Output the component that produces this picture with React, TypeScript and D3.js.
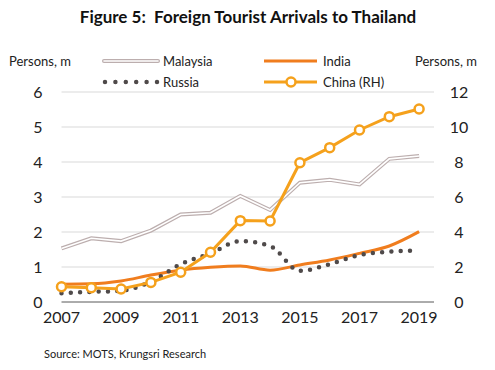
import React from 'react'
import * as d3 from 'd3'

// Foreign tourist arrivals to Thailand, persons m (China on right axis)
const years = [2007, 2008, 2009, 2010, 2011, 2012, 2013, 2014, 2015, 2016, 2017, 2018, 2019]
const malaysia = [1.53, 1.82, 1.74, 2.04, 2.5, 2.55, 3.03, 2.63, 3.41, 3.49, 3.36, 4.09, 4.17]
const india = [0.51, 0.52, 0.6, 0.77, 0.91, 0.99, 1.03, 0.91, 1.06, 1.2, 1.39, 1.6, 2.01]
const russia = [0.25, 0.29, 0.32, 0.58, 1.08, 1.39, 1.74, 1.6, 0.89, 1.08, 1.34, 1.44, 1.47]
const china = [0.87, 0.82, 0.74, 1.12, 1.7, 2.84, 4.65, 4.63, 7.96, 8.82, 9.83, 10.59, 11.03]
const leftTicks = [0, 1, 2, 3, 4, 5, 6]
const rightTicks = [0, 2, 4, 6, 8, 10, 12]
const yearLabels = [2007, 2009, 2011, 2013, 2015, 2017, 2019]

const W = 495, H = 370
const font = 'Lato, "Open Sans", sans-serif'
const cMalaysia = '#bcaeae'
const cIndia = '#f07d1e'
const cChina = '#f5a11c'
const cRussia = '#4f4a4a'

export default function App() {
  const x = d3.scaleLinear().domain([2007, 2019.5]).range([61.5, 434])
  const yL = d3.scaleLinear().domain([0, 6]).range([302, 92])
  const yR = d3.scaleLinear().domain([0, 12]).range([302, 92])

  const lineL = d3.line<number>().x((_, i) => x(years[i])).y(d => yL(d))
  const lineR = d3.line<number>().x((_, i) => x(years[i])).y(d => yR(d))
  const smoothL = d3.line<number>().x((_, i) => x(years[i])).y(d => yL(d)).curve(d3.curveMonotoneX)

  return (
    <svg width={W} height={H} style={{ position: 'absolute', left: 0, top: 0, background: '#fff' }} fontFamily={font}>
      <text x={248} y={23} textAnchor="middle" fontSize={17} fontWeight="bold" fill="#111" style={{ whiteSpace: 'pre' }}>
        {'Figure 5:\u00a0 Foreign Tourist Arrivals to Thailand'}
      </text>

      {/* gridlines */}
      {leftTicks.slice(1).map(t => (
        <line key={t} x1={61.5} x2={434} y1={yL(t)} y2={yL(t)} stroke="#d9d9d9" strokeWidth={1} />
      ))}
      <line x1={61.5} x2={434} y1={yL(0)} y2={yL(0)} stroke="#595959" strokeWidth={1} />

      {/* axis labels */}
      <text x={9} y={66} fontSize={13} fill="#222">Persons, m</text>
      <text x={415} y={66} fontSize={13} fill="#222">Persons, m</text>
      {leftTicks.map(t => (
        <text key={t} x={38} y={yL(t) + 6} textAnchor="middle" fontSize={16} fill="#222">{t}</text>
      ))}
      {rightTicks.map(t => (
        <text key={t} x={459} y={yR(t) + 6} textAnchor="middle" fontSize={16} fill="#222">{t}</text>
      ))}
      {yearLabels.map(t => (
        <text key={t} x={x(t)} y={323} textAnchor="middle" fontSize={16} fill="#222">{t}</text>
      ))}

      {/* series */}
      <path d={lineL(malaysia) || ''} fill="none" stroke={cMalaysia} strokeWidth={4} />
      <path d={lineL(malaysia) || ''} fill="none" stroke="#fff" strokeWidth={1.6} />
      <path d={smoothL(india) || ''} fill="none" stroke={cIndia} strokeWidth={3} />
      <path d={smoothL(russia) || ''} fill="none" stroke={cRussia} strokeWidth={4.5} strokeDasharray="0 9.3" strokeLinecap="round" />
      <path d={lineR(china) || ''} fill="none" stroke={cChina} strokeWidth={3} />
      {china.map((v, i) => (
        <circle key={i} cx={x(years[i])} cy={yR(v)} r={4.5} fill="#fff" stroke={cChina} strokeWidth={2.5} />
      ))}

      {/* legend */}
      <line x1={104} x2={158} y1={61} y2={61} stroke={cMalaysia} strokeWidth={4} strokeLinecap="round" />
      <line x1={104} x2={158} y1={61} y2={61} stroke="#fff" strokeWidth={1.6} strokeLinecap="round" />
      <text x={163} y={66} fontSize={13} fill="#222">Malaysia</text>
      <line x1={264} x2={317} y1={61} y2={61} stroke={cIndia} strokeWidth={3} />
      <text x={323} y={66} fontSize={13} fill="#222">India</text>
      <line x1={105} x2={157} y1={82} y2={82} stroke={cRussia} strokeWidth={4.5} strokeDasharray="0 10.4" strokeLinecap="round" />
      <text x={163} y={87} fontSize={13} fill="#222">Russia</text>
      <line x1={264} x2={317} y1={82} y2={82} stroke={cChina} strokeWidth={3} />
      <circle cx={291} cy={82} r={4.5} fill="#fff" stroke={cChina} strokeWidth={2.5} />
      <text x={323} y={87} fontSize={13} fill="#222">China (RH)</text>

      <text x={44} y={358} fontSize={11} fill="#222">Source: MOTS, Krungsri Research</text>
    </svg>
  )
}
